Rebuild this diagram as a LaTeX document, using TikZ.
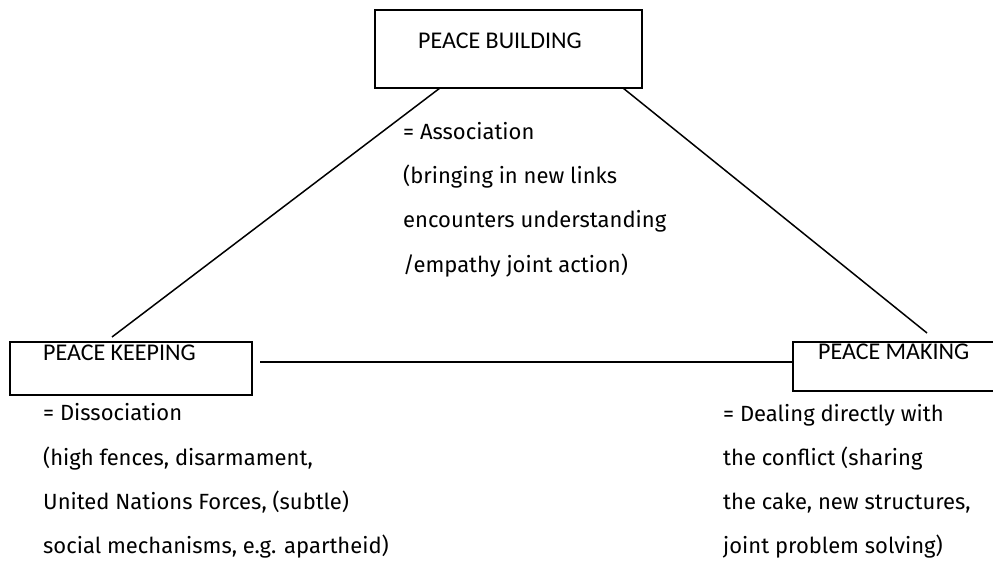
\documentclass[tikz,border=0pt]{standalone}
\usepackage{fontspec}
\setmainfont{Fira Sans}
\newfontfamily\titlefont{Carlito}
\begin{document}
\begin{tikzpicture}[x=1pt,y=-1pt,
  box/.style={draw=black,line width=1.8pt,inner sep=0pt,fill=none},
  title/.style={anchor=base west,inner sep=0pt,font=\titlefont\fontsize{24}{28}\selectfont},
  body/.style={anchor=base west,inner sep=0pt,font=\fontsize{22}{26}\selectfont},
  link/.style={line width=1.5pt}]
\clip (0,0) rectangle (993,561);
\fill[white] (0,0) rectangle (993,561);
% boxes
\node[box,minimum width=267pt,minimum height=78pt] (pb) at (508.5,49) {};
\node[box,minimum width=242pt,minimum height=53pt] (pk) at (131,368.5) {};
\node[box,minimum width=207pt,minimum height=49pt] (pm) at (896.5,366.5) {};
% titles
\node[title] (pbt) at (418,49) {PEACE BUILDING};
\node[title] (pkt) at (43,360) {PEACE KEEPING};
\node[title] (pmt) at (818,359) {PEACE MAKING};
% connector ends
\coordinate (pbl) at (440,88);
\coordinate (pbr) at (623,88);
\coordinate (pkt2) at (112,337);
\coordinate (pmt2) at (927,333);
\coordinate (pke) at (260,362);
\coordinate (pmw) at (pm.west|-pke);
\draw[link] (pbl) -- (pkt2);
\draw[link] (pbr) -- (pmt2);
\draw[link] (pke) -- (pmw);
% texts
\node[body] (a1) at (403,140) {= Association};
\node[body] (a2) at (403,184) {(bringing in new links};
\node[body] (a3) at (403,228) {encounters understanding};
\node[body] (a4) at (403,273) {/empathy joint action)};
\node[body] (d1) at (43,420) {= Dissociation};
\node[body] (d2) at (43,465) {(high fences, disarmament,};
\node[body] (d3) at (43,509) {United Nations Forces, (subtle)};
\node[body] (d4) at (43,553) {social mechanisms, e.g. apartheid)};
\node[body] (m1) at (723,421) {= Dealing directly with};
\node[body] (m2) at (723,465) {the conflict (sharing};
\node[body] (m3) at (723,509) {the cake, new structures,};
\node[body] (m4) at (723,553) {joint problem solving)};
\end{tikzpicture}
\end{document}
